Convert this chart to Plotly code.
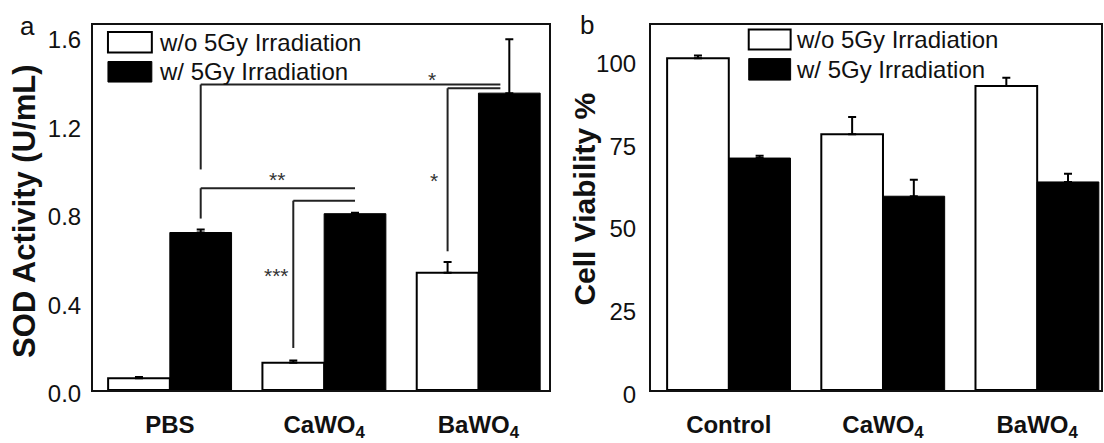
import plotly.graph_objects as go

# ---------------- data ----------------
x_pos = [0, 1, 2]
categories_a = ["PBS", "CaWO<sub>4</sub>", "BaWO<sub>4</sub>"]
sod_without = [0.053, 0.123, 0.530]
sod_without_err = [0.006, 0.010, 0.049]
sod_with = [0.712, 0.797, 1.342]
sod_with_err = [0.013, 0.004, 0.244]

categories_b = ["Control", "CaWO<sub>4</sub>", "BaWO<sub>4</sub>"]
via_without = [100.0, 77.1, 91.6]
via_without_err = [0.8, 5.2, 2.5]
via_with = [69.9, 58.4, 62.7]
via_with_err = [0.7, 5.0, 2.5]

yticks_a = [0.0, 0.4, 0.8, 1.2, 1.6]
yticklabels_a = ["0.0", "0.4", "0.8", "1.2", "1.6"]
yticks_b = [0, 25, 50, 75, 100]
yticklabels_b = ["0", "25", "50", "75", "100"]
series_names = ["w/o 5Gy Irradiation", "w/ 5Gy Irradiation"]

# significance brackets (panel a): (x0, y0, x1, y1)
bracket_lines = [
    (0.2, 1.381, 2.142, 1.381), (0.2, 1.381, 0.2, 0.997),
    (1.8, 1.364, 2.142, 1.364), (1.8, 1.364, 1.8, 0.627),
    (0.2, 0.912, 1.2, 0.912), (0.2, 0.912, 0.2, 0.775),
    (0.8, 0.856, 1.2, 0.856), (0.8, 0.856, 0.8, 0.190),
]
stars = [("*", 1.702, 1.404), ("*", 1.709, 0.947), ("**", 0.693, 0.951), ("***", 0.693, 0.516)]

FONT = "Arial, Liberation Sans, sans-serif"
INK = "#111111"

fig = go.Figure()

def err(arr):
    return dict(type="data", array=arr, arrayminus=[0] * len(arr), symmetric=False,
                color="black", thickness=2, width=4)

white_marker = dict(color="white", line=dict(color="black", width=2))
black_marker = dict(color="black", line=dict(color="black", width=1))

fig.add_trace(go.Bar(x=x_pos, y=sod_without, error_y=err(sod_without_err), marker=white_marker,
                     name=series_names[0], xaxis="x", yaxis="y", showlegend=False))
fig.add_trace(go.Bar(x=x_pos, y=sod_with, error_y=err(sod_with_err), marker=black_marker,
                     name=series_names[1], xaxis="x", yaxis="y", showlegend=False))
fig.add_trace(go.Bar(x=x_pos, y=via_without, error_y=err(via_without_err), marker=white_marker,
                     name=series_names[0], xaxis="x2", yaxis="y2", showlegend=False))
fig.add_trace(go.Bar(x=x_pos, y=via_with, error_y=err(via_with_err), marker=black_marker,
                     name=series_names[1], xaxis="x2", yaxis="y2", showlegend=False))

axis_common = dict(showline=True, linecolor=INK, linewidth=2, mirror=True, showgrid=False,
                   zeroline=False, ticks="")
xfont = dict(size=24, family="Arial, Liberation Sans", weight="bold", color=INK)

fig.update_layout(
    width=1104, height=443,
    margin=dict(l=93, r=1, t=25, b=47),
    paper_bgcolor="white", plot_bgcolor="white",
    barmode="group", bargap=0.2, bargroupgap=0,
    font=dict(family=FONT, color=INK),
    xaxis=dict(domain=[0, 0.4525], range=[-0.498, 2.458], tickvals=x_pos, ticktext=categories_a,
               tickfont=xfont, ticklabelstandoff=12, anchor="y", **axis_common),
    yaxis=dict(domain=[0, 1], range=[0, 1.65], tickvals=yticks_a, ticktext=yticklabels_a,
               tickfont=dict(size=24), ticklabelshift=4, ticklabelstandoff=5, anchor="x",
               **axis_common),
    xaxis2=dict(domain=[0.5535, 1.0], range=[-0.505, 2.414], tickvals=x_pos, ticktext=categories_b,
                tickfont=xfont, ticklabelstandoff=12, anchor="y2", **axis_common),
    yaxis2=dict(domain=[0, 1], range=[0, 110], tickvals=yticks_b, ticktext=yticklabels_b,
                tickfont=dict(size=24), ticklabelshift=5, ticklabelstandoff=8, anchor="x2",
                **axis_common),
)

shapes = []
for (x0, y0, x1, y1) in bracket_lines:
    shapes.append(dict(type="line", xref="x", yref="y", x0=x0, y0=y0, x1=x1, y1=y1,
                       line=dict(color="#222222", width=2)))

# manual legends
def legend_boxes(xr, yr, bx0, bx1, wy, ky):
    return [
        dict(type="rect", xref=xr, yref=yr, x0=bx0, x1=bx1, y0=wy[0], y1=wy[1],
             fillcolor="white", line=dict(color="black", width=2)),
        dict(type="rect", xref=xr, yref=yr, x0=bx0, x1=bx1, y0=ky[0], y1=ky[1],
             fillcolor="black", line=dict(color="black", width=1)),
    ]

shapes += legend_boxes("x domain", "y domain", 0.0328, 0.129, (0.9245, 0.981), (0.8437, 0.900))
shapes += legend_boxes("x2 domain", "y2 domain", 0.2173, 0.3104, (0.9326, 0.988), (0.849, 0.908))
fig.update_layout(shapes=shapes)

annotations = []
for txt, xx, yy in stars:
    annotations.append(dict(text=txt, x=xx, y=yy, xref="x", yref="y", showarrow=False,
                            font=dict(size=21, color="#333333"), xanchor="center", yanchor="middle"))

for xr, yr, tx, ys in [("x domain", "y domain", 0.140, (0.953, 0.873)),
                       ("x2 domain", "y2 domain", 0.317, (0.960, 0.879))]:
    for name, yy in zip(series_names, ys):
        annotations.append(dict(text=name, x=tx, y=yy, xref=xr, yref=yr, showarrow=False,
                                xanchor="left", yanchor="middle", font=dict(size=24, color=INK)))

# axis titles and panel letters (pixel offsets from plot area)
annotations.append(dict(text="<b>SOD Activity (U/mL)</b>", xref="paper", yref="paper", x=0, y=0.488,
                        xshift=-68, textangle=-90, showarrow=False, xanchor="center", yanchor="middle",
                        font=dict(size=31, color=INK)))
annotations.append(dict(text="<b>Cell Viability %</b>", xref="paper", yref="paper", x=0, y=0.5216,
                        xshift=585 - 93, textangle=-90, showarrow=False, xanchor="center",
                        yanchor="middle", font=dict(size=30, color=INK)))
annotations.append(dict(text="a", xref="paper", yref="paper", x=0, y=1, xshift=27.5 - 93, yshift=-1,
                        showarrow=False, xanchor="center", yanchor="middle", font=dict(size=26, color=INK)))
annotations.append(dict(text="b", xref="paper", yref="paper", x=0, y=1, xshift=587 - 93, yshift=0,
                        showarrow=False, xanchor="center", yanchor="middle", font=dict(size=26, color=INK)))
fig.update_layout(annotations=annotations)

fig.write_html("out.html")
